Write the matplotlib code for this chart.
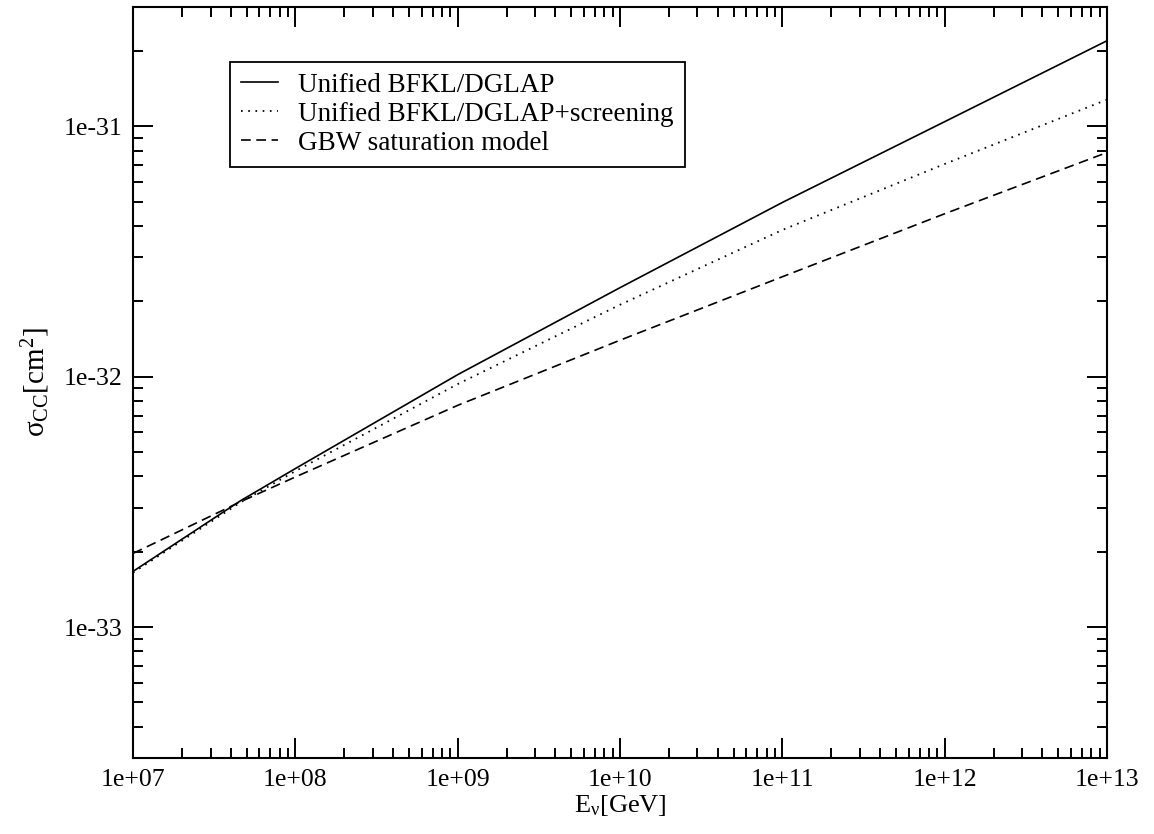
import numpy as np
import matplotlib
matplotlib.use('Agg')
import matplotlib.pyplot as plt
from matplotlib.ticker import FixedLocator, FuncFormatter, NullFormatter

plt.rcParams['font.family'] = ['Liberation Serif', 'DejaVu Serif']
plt.rcParams['mathtext.fontset'] = 'custom'
plt.rcParams['mathtext.rm'] = 'Liberation Serif'
plt.rcParams['mathtext.it'] = 'Liberation Serif:italic'
plt.rcParams['lines.scale_dashes'] = False

# neutrino energy (GeV) and charged-current cross sections (cm^2)
energia = [1e7, 4.6e7, 1e8, 1e9, 1e10, 1e11, 1e12, 1e13]
unified = [1.67e-33, 3.2e-33, 4.3e-33, 1.02e-32, 2.27e-32, 4.97e-32, 1.045e-31, 2.20e-31]
screening = [1.65e-33, 3.15e-33, 4.2e-33, 9.35e-33, 1.94e-32, 3.86e-32, 7.08e-32, 1.28e-31]
gbw = [1.97e-33, 3.17e-33, 3.98e-33, 7.69e-33, 1.40e-32, 2.51e-32, 4.48e-32, 7.87e-32]

nomes = ['Unified BFKL/DGLAP', 'Unified BFKL/DGLAP+screening', 'GBW saturation model']

fig = plt.figure(figsize=(11.54, 8.34), dpi=100)
ax = fig.add_axes([0.1153, 0.0911, 0.844, 0.9005])

ax.plot(energia, unified, color='black', lw=1.2, label=nomes[0])
ax.plot(energia, screening, color='black', lw=1.3, dashes=(1.2, 4), label=nomes[1])
ax.plot(energia, gbw, color='black', lw=1.2, dashes=(7, 4), label=nomes[2])

ax.set_xscale('log')
ax.set_yscale('log')
ax.set_xlim(1e7, 1e13)
ax.set_ylim(3e-34, 3e-31)

def fmt_exp(v, pos):
    e = int(round(np.log10(v)))
    return '1e%s%02d' % ('+' if e >= 0 else '-', abs(e))

ax.xaxis.set_major_locator(FixedLocator([10.0 ** k for k in range(7, 14)]))
ax.yaxis.set_major_locator(FixedLocator([10.0 ** k for k in range(-33, -30)]))
ax.xaxis.set_major_formatter(FuncFormatter(fmt_exp))
ax.yaxis.set_major_formatter(FuncFormatter(fmt_exp))
ax.xaxis.set_minor_locator(FixedLocator([m * 10.0 ** k for k in range(7, 13) for m in range(2, 10)]))
ax.yaxis.set_minor_locator(FixedLocator([m * 10.0 ** k for k in range(-35, -30) for m in range(2, 10)]))
ax.xaxis.set_minor_formatter(NullFormatter())
ax.yaxis.set_minor_formatter(NullFormatter())

ax.tick_params(which='both', direction='in', top=True, right=True, width=1.4, labelsize=18.5)
ax.tick_params(which='major', length=14.5, pad=8)
ax.tick_params(which='minor', length=7.2)
for s in ax.spines.values():
    s.set_linewidth(1.5)

ax.set_xlabel(r'E$_{\mathrm{ν}}$[GeV]', fontsize=19, labelpad=1)
ax.set_ylabel(r'σ$_{\mathrm{CC}}$[cm$^{2}$]', fontsize=21, labelpad=8)

leg = ax.legend(loc='upper left', bbox_to_anchor=(0.0996, 0.927), borderaxespad=0,
                fontsize=19.5, handlelength=1.37, handletextpad=0.75, labelspacing=0.15,
                borderpad=0.4, fancybox=False, framealpha=1, edgecolor='black')
leg.get_frame().set_linewidth(1.3)

plt.savefig('out.png', dpi=100)
